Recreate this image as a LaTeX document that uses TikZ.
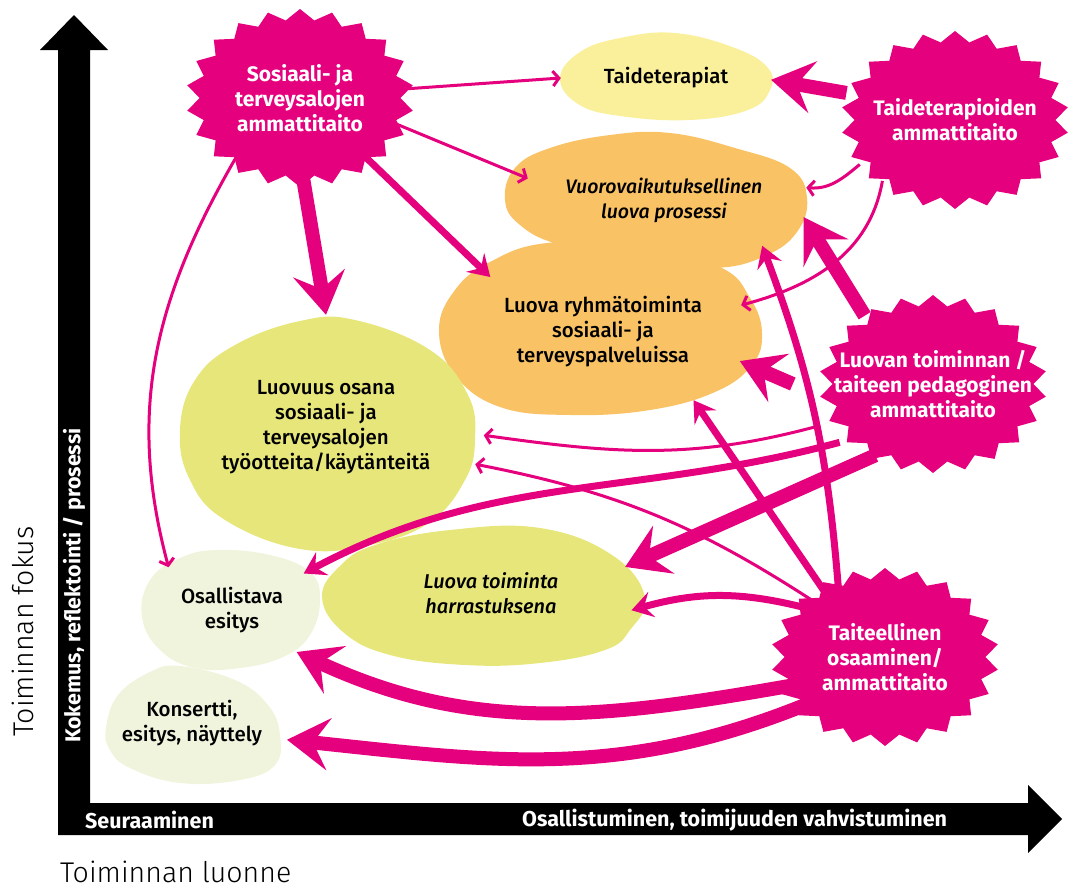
\documentclass[tikz,border=0pt]{standalone}
\usepackage{fontspec}
\setmainfont{Fira Sans}
\newfontfamily\ohutfont{Fira Sans Light}
\newfontfamily\keskifont{Fira Sans Medium}[ItalicFont={Fira Sans Medium Italic}]
\usetikzlibrary{arrows.meta,shapes.geometric,backgrounds}
\definecolor{magen}{HTML}{E5007D}
\definecolor{terapia}{HTML}{FAF09B}
\definecolor{oranssi}{HTML}{F9C265}
\definecolor{kelta}{HTML}{E6E67B}
\definecolor{vaalea}{HTML}{F0F4DC}
\begin{document}
\begin{tikzpicture}[x=1pt,y=-1pt,
	star/.style={ellipse,minimum width=200pt,minimum height=156pt,inner sep=0pt,text=white,align=center,font=\fontsize{21}{25}\selectfont\bfseries},
	blob/.style={ellipse,inner sep=0pt,align=center,font=\fontsize{20.5}{25}\selectfont\keskifont},
	axislabel/.style={inner sep=0pt,text=white,font=\fontsize{21.5}{24}\selectfont\bfseries},
	biglabel/.style={inner sep=0pt,font=\fontsize{28.5}{30}\selectfont\ohutfont},
	thinarr/.style={magen,line width=3pt,-{Straight Barb[length=6pt,width=15pt]}},
	midarr/.style={magen,line width=7pt,-{Stealth[length=21pt,width=26pt,inset=8pt]}},
	bigarr/.style={magen,line width=14pt,-{Stealth[length=42pt,width=52pt,inset=16pt]}}]
	\useasboundingbox (0,0) rectangle (1082,889);
	\fill (58,835) -- (58,50) -- (40,50) -- (74,15) -- (108,50) -- (90,50) -- (90,803) -- (1028,803) -- (1028,785) -- (1062,819) -- (1028,853) -- (1028,835) -- cycle;
	\node[axislabel,rotate=90,anchor=west] (kokemus) at (74,743) {Kokemus, reflektointi / prosessi};
	\node[axislabel,anchor=west] (seuraa) at (85,820) {Seuraaminen};
	\node[axislabel,anchor=west] (osallis) at (522,820) {Osallistuminen, toimijuuden vahvistuminen};
	\node[biglabel,rotate=90,anchor=base west] (fokus) at (33,737) {Toiminnan fokus};
	\node[biglabel,anchor=base west] (luonne) at (60,882) {Toiminnan luonne};

	\node[star] (sote) at (300,98) {Sosiaali- ja\\terveysalojen\\ammattitaito};
	\node[star] (tt) at (955,120) {Taideterapioiden\\ammattitaito};
	\node[star] (ped) at (933,384) {Luovan toiminnan /\\taiteen pedagoginen\\ammattitaito};
	\node[star] (taide) at (885,657) {Taiteellinen\\osaaminen/\\ammattitaito};

	\node[blob,minimum width=210pt,minimum height=86pt] (tera) at (666,78) {Taideterapiat};
	\node[blob,minimum width=290pt,minimum height=124pt,font=\fontsize{19.5}{25}\selectfont\keskifont\itshape] (vuoro) at (664,200) {Vuorovaikutuksellinen\\luova prosessi};
	\node[blob,minimum width=290pt,minimum height=174pt] (ryhma) at (603,332) {Luova ryhmätoiminta\\sosiaali- ja\\terveyspalveluissa};
	\node[blob,minimum width=316pt,minimum height=224pt] (luovuus) at (326,427) {Luovuus osana\\sosiaali- ja\\terveysalojen\\työotteita/käytänteitä};
	\node[blob,minimum width=290pt,minimum height=136pt,font=\fontsize{20}{25}\selectfont\keskifont\itshape] (harr) at (491,593) {Luova toiminta\\harrastuksena};
	\node[blob,minimum width=180pt,minimum height=120pt] (osal) at (232,610) {Osallistava\\esitys};
	\node[blob,minimum width=180pt,minimum height=116pt] (kons) at (192,723) {Konsertti,\\esitys, näyttely};

	\begin{pgfonlayer}{background}
	\fill[terapia] plot[smooth cycle,tension=0.7] coordinates {(560,78) (580,52) (620,38) (675,33) (735,48) (768,68) (770,90) (748,110) (690,120) (620,116) (578,104)};
	\fill[oranssi] plot[smooth cycle,tension=0.7] coordinates {(505,200) (515,168) (550,148) (610,135) (670,133) (735,148) (790,168) (807,198) (797,232) (765,256) (715,268) (640,262) (560,245) (520,225)};
	\fill[oranssi] plot[smooth cycle,tension=0.7] coordinates {(439,330) (455,290) (490,262) (547,243) (640,245) (720,267) (750,298) (762,333) (752,365) (715,392) (650,410) (570,415) (500,407) (455,375)};
	\fill[kelta] plot[smooth cycle,tension=0.7] coordinates {(180,430) (195,380) (235,345) (300,321) (355,320) (430,350) (468,395) (475,440) (465,480) (430,522) (370,545) (300,549) (225,520) (190,480)};
	\fill[kelta] plot[smooth cycle,tension=0.7] coordinates {(322,597) (340,566) (375,545) (450,530) (540,528) (612,555) (645,597) (630,630) (605,650) (540,663) (465,665) (390,655) (343,632)};
	\fill[vaalea] plot[smooth cycle,tension=0.7] coordinates {(142,617) (150,580) (180,558) (217,550) (270,555) (310,572) (320,600) (310,635) (283,657) (240,668) (195,668) (160,650)};
	\fill[vaalea] plot[smooth cycle,tension=0.7] coordinates {(106,728) (118,695) (150,672) (180,666) (235,680) (268,705) (280,735) (275,765) (240,780) (180,783) (130,768) (110,750)};
	\foreach \s in {sote,tt,ped,taide}
		\fill[magen,shift={(\s.center)}] plot[samples at={0,...,43},variable=\k] ({(1-0.12*mod(\k,2))*114*cos(90+\k*360/44)},{(1-0.12*mod(\k,2))*89*sin(90+\k*360/44)}) -- cycle;
	\end{pgfonlayer}

	\draw[thinarr] (sote.5) -- (tera.180);
	\draw[thinarr] (sote.-15) -- (vuoro.171);
	\draw[midarr] (sote.-42) -- (ryhma.154);
	\draw[bigarr] (sote.-88) -- (luovuus.90);
	\draw[thinarr] (sote.223) to[out=-120,in=105] (osal.146);

	\draw[bigarr] (tt.166) -- (tera.-1);
	\draw[thinarr] (tt.205) to[out=-140,in=-5] (vuoro.5);
	\draw[thinarr] (tt.220) to[out=-100,in=15] (ryhma.11);

	\draw[bigarr] (ped.135) -- (vuoro.-7);
	\draw[bigarr] (ped.180) -- (ryhma.-12);
	\draw[thinarr] (ped.200) to[out=-165,in=-8] (luovuus.-3);
	\draw[midarr] (ped.212) to[out=-165,in=28] (osal.27);
	\draw[bigarr] (ped.231) -- (harr.11);

	\draw[midarr] (taide.133) -- (ryhma.-37);
	\draw[midarr] (taide.124) to[bend right=8] (vuoro.-25);
	\draw[thinarr] (taide.142) to[bend right=11] (luovuus.-14);
	\draw[midarr] (taide.148) to[bend right=15] (harr.-7);
	\draw[bigarr] (taide.197) to[out=190,in=-25] (osal.-33);
	\draw[bigarr] (taide.211) to[out=202,in=-6] (kons.-10);
\end{tikzpicture}
\end{document}
